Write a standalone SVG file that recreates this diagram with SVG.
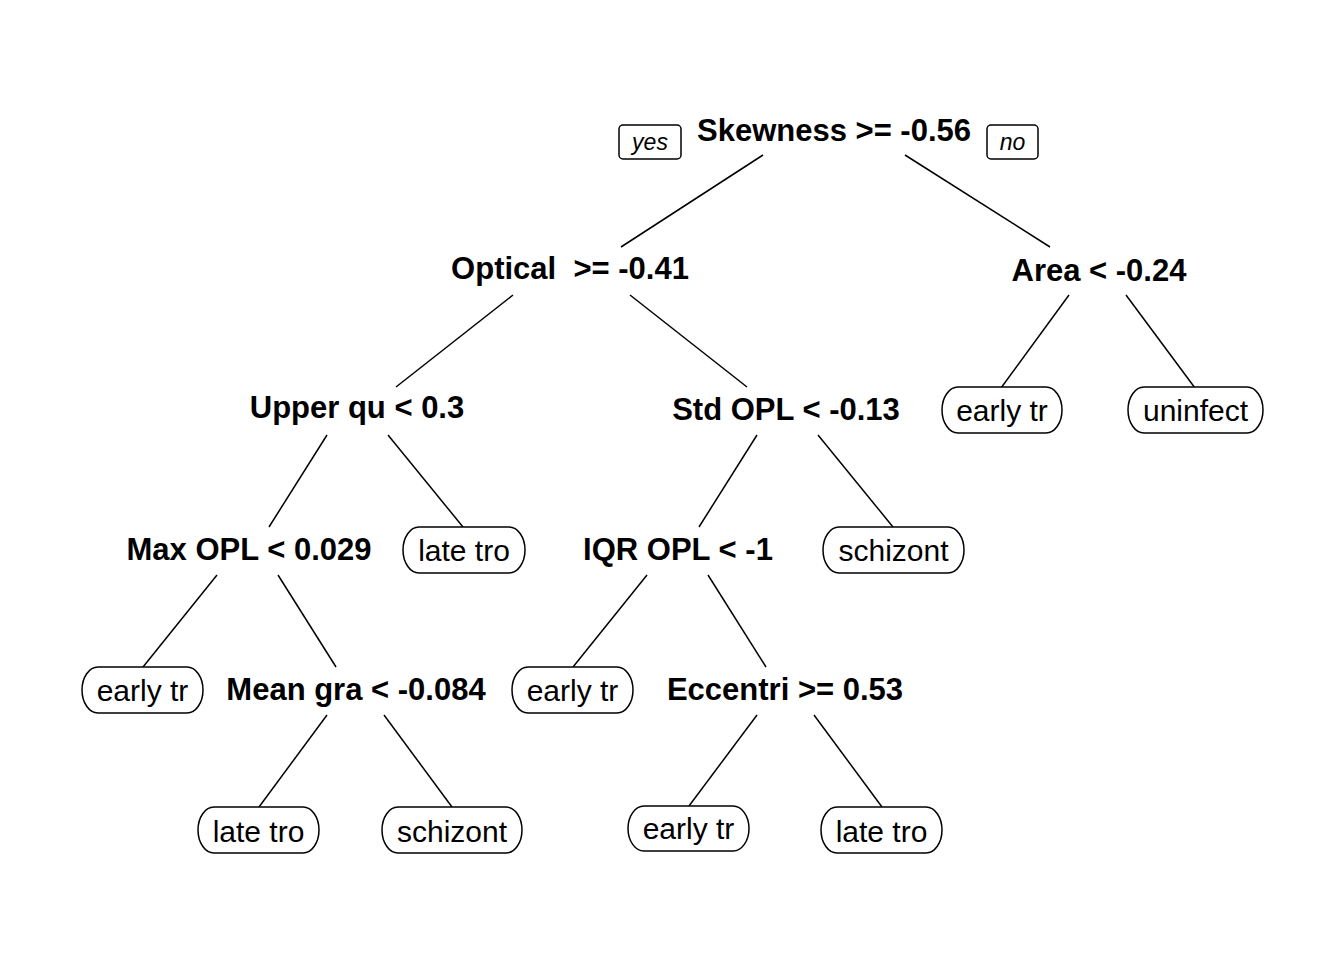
<svg xmlns="http://www.w3.org/2000/svg" width="1344" height="960" viewBox="0 0 1344 960">
<style>
.bg{fill:#fff}
.split{font-family:"Liberation Sans",Arial,sans-serif;font-weight:bold;font-size:31px;text-anchor:middle;fill:#000}
.leaf text{font-family:"Liberation Sans",Arial,sans-serif;font-size:30px;text-anchor:middle;fill:#000}
.leaf rect{fill:#fff;stroke:#000;stroke-width:1.5}
.yn rect{fill:#fff;stroke:#000;stroke-width:1.5}
.yn text{font-family:"Liberation Sans",Arial,sans-serif;font-style:italic;font-size:23px;text-anchor:middle;fill:#000}
#connectors line{stroke:#000;stroke-width:1.5}
</style>
<rect class="bg" x="0" y="0" width="1344" height="960"/>
<g id="connectors">
<line x1="763" y1="155" x2="621" y2="247"/>
<line x1="905" y1="155" x2="1050" y2="247"/>
<line x1="513" y1="295" x2="396" y2="387"/>
<line x1="630" y1="295" x2="747" y2="387"/>
<line x1="1069" y1="295" x2="1001" y2="388"/>
<line x1="1126" y1="295" x2="1195" y2="388"/>
<line x1="327" y1="435" x2="269" y2="527"/>
<line x1="388" y1="435" x2="463" y2="527"/>
<line x1="757" y1="435" x2="699" y2="527"/>
<line x1="818" y1="435" x2="893" y2="527"/>
<line x1="217" y1="575" x2="143" y2="667"/>
<line x1="278" y1="575" x2="336" y2="667"/>
<line x1="647" y1="575" x2="573" y2="667"/>
<line x1="708" y1="575" x2="766" y2="667"/>
<line x1="327" y1="715" x2="259" y2="807"/>
<line x1="384" y1="715" x2="452" y2="807"/>
<line x1="757" y1="715" x2="689" y2="806"/>
<line x1="814" y1="715" x2="882" y2="807"/>
</g>
<g id="yes" class="yn"><rect x="619" y="125" width="62" height="34" rx="4"/><text x="650" y="150">yes</text></g>
<g id="no" class="yn"><rect x="987" y="125" width="51" height="34" rx="4"/><text x="1012.5" y="150">no</text></g>
<g id="n1"><text class="split" x="834" y="141">Skewness &gt;= -0.56</text></g>
<g id="n2"><text class="split" x="570" y="279" xml:space="preserve">Optical  &gt;= -0.41</text></g>
<g id="n3"><text class="split" x="1099" y="281">Area &lt; -0.24</text></g>
<g id="n4"><text class="split" x="357" y="418">Upper qu &lt; 0.3</text></g>
<g id="n5"><text class="split" x="786" y="420">Std OPL &lt; -0.13</text></g>
<g id="n6" class="leaf"><rect x="942" y="387" width="120" height="46" rx="16" ry="23"/><text x="1002" y="421">early tr</text></g>
<g id="n7" class="leaf"><rect x="1128" y="387" width="135" height="46" rx="16" ry="23"/><text x="1195.5" y="421">uninfect</text></g>
<g id="n8"><text class="split" x="249" y="560">Max OPL &lt; 0.029</text></g>
<g id="n9" class="leaf"><rect x="403" y="527" width="122" height="46" rx="16" ry="23"/><text x="464" y="561">late tro</text></g>
<g id="n10"><text class="split" x="678" y="560">IQR OPL &lt; -1</text></g>
<g id="n11" class="leaf"><rect x="823" y="527" width="141" height="46" rx="16" ry="23"/><text x="893.5" y="561">schizont</text></g>
<g id="n12" class="leaf"><rect x="82" y="667" width="121" height="46" rx="16" ry="23"/><text x="142.5" y="701">early tr</text></g>
<g id="n13"><text class="split" x="356" y="700">Mean gra &lt; -0.084</text></g>
<g id="n14" class="leaf"><rect x="512" y="667" width="121" height="46" rx="16" ry="23"/><text x="572.5" y="701">early tr</text></g>
<g id="n15"><text class="split" x="785" y="700">Eccentri &gt;= 0.53</text></g>
<g id="n16" class="leaf"><rect x="198" y="807" width="121" height="46" rx="16" ry="23"/><text x="258.5" y="842">late tro</text></g>
<g id="n17" class="leaf"><rect x="382" y="807" width="140" height="46" rx="16" ry="23"/><text x="452" y="842">schizont</text></g>
<g id="n18" class="leaf"><rect x="628" y="806" width="121" height="45" rx="16" ry="22.5"/><text x="688.5" y="839">early tr</text></g>
<g id="n19" class="leaf"><rect x="821" y="807" width="121" height="46" rx="16" ry="23"/><text x="881.5" y="842">late tro</text></g>
</svg>
